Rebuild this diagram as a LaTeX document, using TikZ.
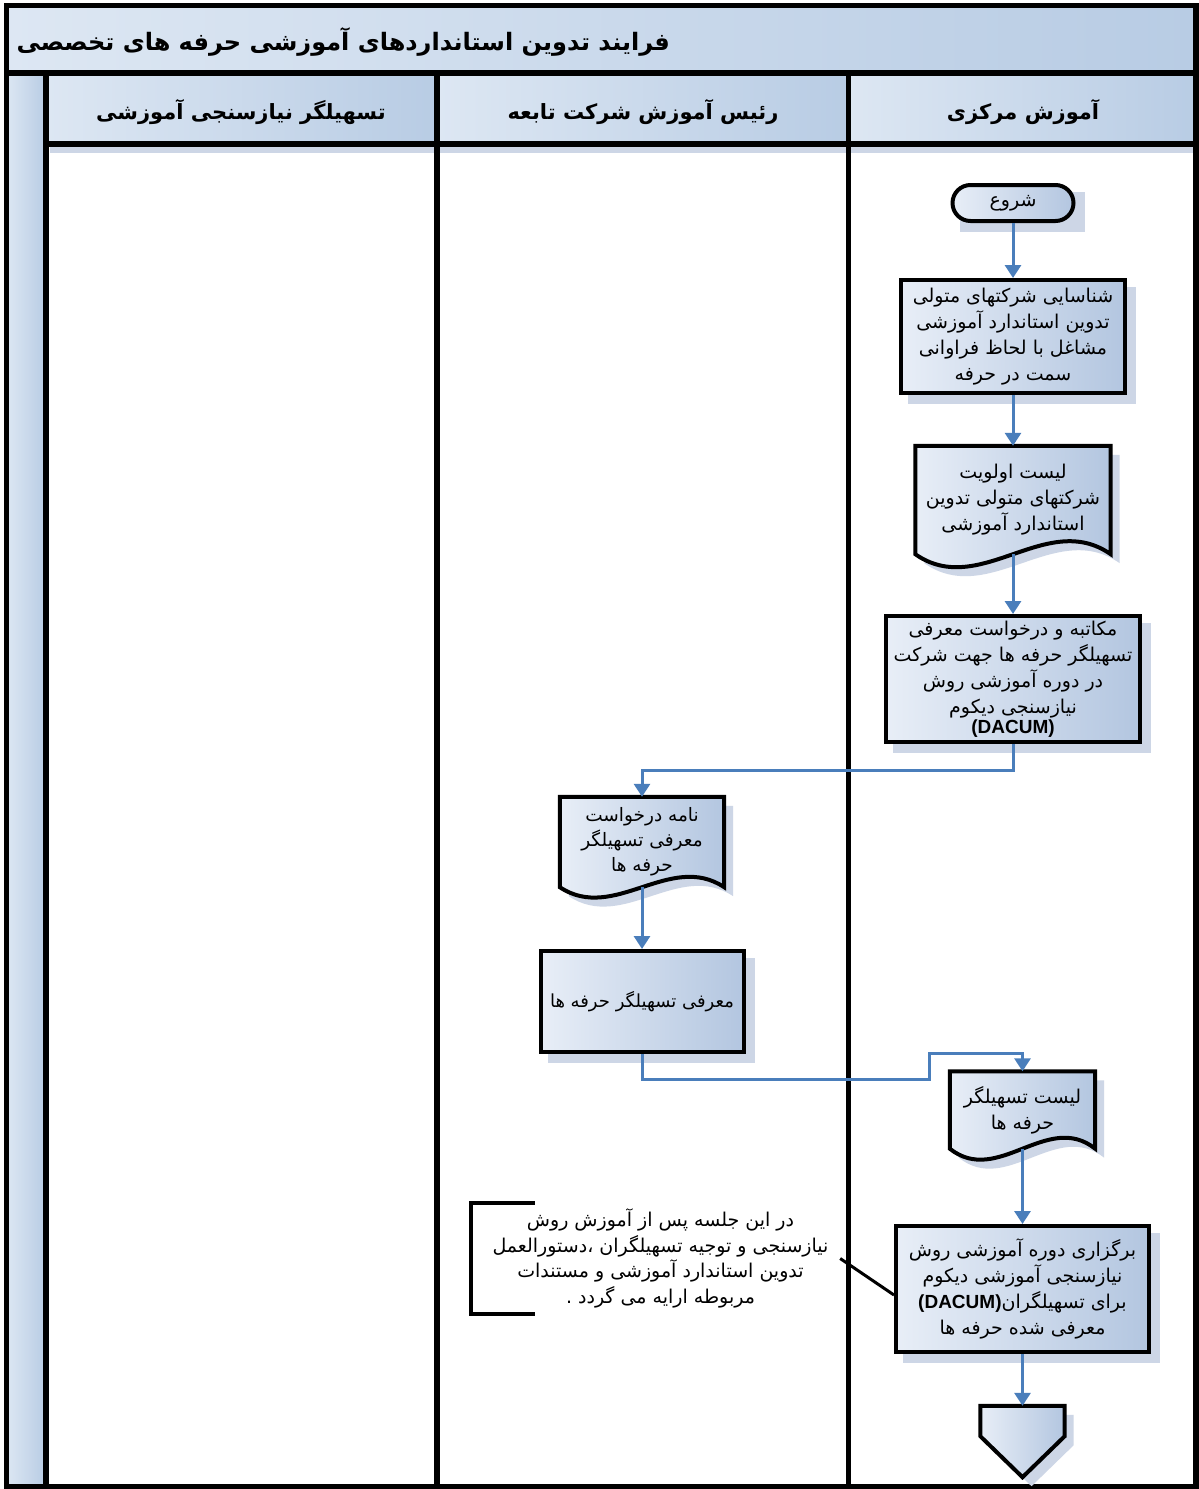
\documentclass[tikz,border=0pt]{standalone}
\usepackage{fontspec}
\usetikzlibrary{arrows.meta,calc}
\newfontfamily\fa[Script=Arabic]{DejaVu Sans}
\newfontfamily\lat{Liberation Sans}
\TeXXeTstate=1
\newcommand{\RL}[1]{\beginR#1\endR}
\definecolor{hdrA}{HTML}{DDE7F3}
\definecolor{hdrB}{HTML}{B8CCE4}
\definecolor{shpA}{HTML}{E8EEF7}
\definecolor{shpB}{HTML}{B3C6E0}
\definecolor{flowc}{HTML}{4A7EBB}
\definecolor{shdc}{HTML}{CDD6E6}
\pgfdeclarelayer{lanes}
\pgfdeclarelayer{shadows}
\pgfdeclarelayer{docs}
\pgfsetlayers{lanes,shadows,docs,main}
\newcommand{\boxfont}{\fa\fontsize{19}{26}\selectfont}
\newcommand{\docshape}[2]{%
  \begin{pgfonlayer}{docs}
  \path[docstyle] (#1.north west) -- (#1.north east) -- (#1.south east)
    .. controls ($(#1.south east)!0.33!(#1.south west)+(0,-#2)$) and ($(#1.south east)!0.67!(#1.south west)+(0,#2)$) .. (#1.south west) -- cycle;
  \end{pgfonlayer}
  \begin{pgfonlayer}{shadows}
  \fill[shdc] ([shift={(9,9)}]#1.north west) -- ([shift={(9,9)}]#1.north east) -- ([shift={(9,9)}]#1.south east)
    .. controls ($(#1.south east)!0.33!(#1.south west)+(9,9-#2)$) and ($(#1.south east)!0.67!(#1.south west)+(9,9+#2)$) .. ([shift={(9,9)}]#1.south west) -- cycle;
  \end{pgfonlayer}}
\newcommand{\boxshadow}[1]{%
  \begin{pgfonlayer}{shadows}
  \fill[shdc] ([shift={(9,9)}]#1.north west) rectangle ([shift={(9,9)}]#1.south east);
  \end{pgfonlayer}}
\tikzset{
  lanehdr/.style={left color=hdrA, right color=hdrB},
  laneline/.style={draw=black, line width=5.5pt},
  proc/.style={rectangle, draw=black, line width=4pt, left color=shpA, right color=shpB,
    align=center, inner sep=2pt, font=\boxfont},
  docnode/.style={rectangle, draw=none, align=center, inner sep=2pt, font=\boxfont},
  docstyle/.style={draw=black, line width=4pt, left color=shpA, right color=shpB},
  flow/.style={draw=flowc, line width=3pt, -{Triangle[length=13pt,width=16pt]}},
  hdrtext/.style={font=\fa\bfseries\fontsize{21}{25}\selectfont},
}
\begin{document}
\begin{tikzpicture}[x=1pt,y=-1pt]
\useasboundingbox (0,0) rectangle (1199,1489);
% ---------- lanes ----------
\begin{pgfonlayer}{lanes}
\fill[white] (0,0) rectangle (1199,1489);
\shade[lanehdr] (6,5) rectangle (1196,73);
\shade[left color=hdrA, right color=hdrB] (6,73) rectangle (46,1487);
\shade[lanehdr] (46,73) rectangle (437,144);
\shade[lanehdr] (437,73) rectangle (848,144);
\shade[lanehdr] (848,73) rectangle (1196,144);
\fill[shdc] (50,147) rectangle (1194,153);
\draw[laneline] (6.5,5.5) rectangle (1196,1486.5);
\draw[laneline] (6.5,73) -- (1196,73);
\draw[laneline] (46,144) -- (1196,144);
\draw[laneline] (46,73) -- (46,1486.5);
\draw[laneline] (437,73) -- (437,1486.5);
\draw[laneline] (848.5,73) -- (848.5,1486.5);
\end{pgfonlayer}
% ---------- titles ----------
\node[anchor=west, font=\fa\bfseries\fontsize{24}{28}\selectfont] (title) at (13,42)
  {\RL{فرایند تدوین استانداردهای آموزشی حرفه های تخصصی}};
\node[hdrtext] (h1) at (241,112) {\RL{تسهیلگر نیازسنجی آموزشی}};
\node[hdrtext] (h2) at (643,112) {\RL{رئیس آموزش شرکت تابعه}};
\node[hdrtext] (h3) at (1023,112) {\RL{آموزش مرکزی}};
% ---------- shapes ----------
\node[proc, rounded corners=18pt, minimum width=121pt, minimum height=36pt] (start) at (1013,203) {\RL{شروع}};
\boxshadow{start}
\node[proc, minimum width=224pt, minimum height=113pt] (p1) at (1013,336.5)
  {\RL{شناسایی شرکتهای متولی}\\ \RL{تدوین استاندارد آموزشی}\\ \RL{مشاغل با لحاظ فراوانی}\\ \RL{سمت در حرفه}};
\boxshadow{p1}
\node[docnode, minimum width=195pt, minimum height=108pt] (d1) at (1013,500)
  {\RL{لیست اولویت}\\ \RL{شرکتهای متولی تدوین}\\ \RL{استاندارد آموزشی}};
\docshape{d1}{45}
\node[proc, minimum width=254pt, minimum height=126pt] (p2) at (1013,679)
  {\RL{مکاتبه و درخواست معرفی}\\ \RL{تسهیلگر حرفه ها جهت شرکت}\\ \RL{در دوره آموزشی روش}\\ \RL{نیازسنجی دیکوم}\\[-6pt] {\lat\bfseries (DACUM)}};
\boxshadow{p2}
\node[docnode, minimum width=164pt, minimum height=90pt, font=\fa\fontsize{18.5}{25}\selectfont] (d2) at (642,842)
  {\RL{نامه درخواست}\\ \RL{معرفی تسهیلگر}\\ \RL{حرفه ها}};
\docshape{d2}{36}
\node[proc, minimum width=203pt, minimum height=101pt, font=\fa\fontsize{18}{26}\selectfont] (p3) at (642,1001.5)
  {\RL{معرفی تسهیلگر حرفه ها}};
\boxshadow{p3}
\node[docnode, minimum width=145pt, minimum height=77pt] (d3) at (1022.5,1110)
  {\RL{لیست تسهیلگر}\\ \RL{حرفه ها}};
\docshape{d3}{38}
\node[proc, minimum width=253pt, minimum height=126pt] (p4) at (1022.5,1289)
  {\RL{برگزاری دوره آموزشی روش}\\ \RL{نیازسنجی آموزشی دیکوم}\\ \RL{برای تسهیلگران\beginL{\lat\bfseries (DACUM)}\endL}\\ \RL{معرفی شده حرفه ها}};
\boxshadow{p4}
\node[docnode, minimum width=84pt, minimum height=30pt] (off) at (1022.5,1421) {};
\begin{pgfonlayer}{docs}
\path[docstyle] (off.north west) -- (off.north east) -- (off.south east) -- ($(off.south)+(0,41)$) -- (off.south west) -- cycle;
\end{pgfonlayer}
\begin{pgfonlayer}{shadows}
\fill[shdc] ([shift={(9,9)}]off.north west) -- ([shift={(9,9)}]off.north east) -- ([shift={(9,9)}]off.south east) -- ($(off.south)+(9,50)$) -- ([shift={(9,9)}]off.south west) -- cycle;
\end{pgfonlayer}
% ---------- annotation ----------
\node[font=\fa\fontsize{19}{25.5}\selectfont, align=center, minimum width=369pt, minimum height=111pt, inner sep=0pt] (ann) at (655.5,1258.5)
  {\hspace*{10pt}\RL{در این جلسه پس از آموزش روش}\\ \hspace*{10pt}\RL{نیازسنجی و توجیه تسهیلگران ،دستورالعمل}\\ \hspace*{10pt}\RL{تدوین استاندارد آموزشی و مستندات}\\ \hspace*{10pt}\RL{مربوطه ارایه می گردد .}};
\draw[line width=4pt] ([xshift=64pt]ann.north west) -- (ann.north west) -- (ann.south west) -- ([xshift=64pt]ann.south west);
\draw[line width=3pt] (ann.east) -- ($(p4.west)+(0,6)$);
% ---------- connectors ----------
\coordinate (k1) at (929,1053);
\draw[flow] (start.south) -- (p1.north);
\draw[flow] (p1.south) -- (d1.north);
\draw[flow] (d1.south) -- (p2.north);
\draw[flow] (p2.south) -- ++(0,26) -| (d2.north);
\draw[flow] (d2.south) -- (p3.north);
\draw[flow] (p3.south) -- ++(0,25) -| (k1) -| (d3.north);
\draw[flow] (d3.south) -- (p4.north);
\draw[flow] (p4.south) -- (off.north);
\end{tikzpicture}
\end{document}
